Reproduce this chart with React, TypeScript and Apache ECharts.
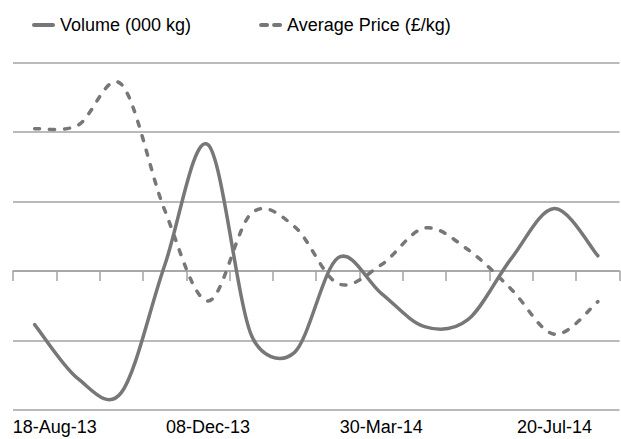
import React, { useEffect, useRef } from "react";
import * as echarts from "echarts";

// Four-weekly periods
const periods = [
  "18-Aug-13", "15-Sep-13", "13-Oct-13", "10-Nov-13", "08-Dec-13",
  "05-Jan-14", "02-Feb-14", "02-Mar-14", "30-Mar-14", "27-Apr-14",
  "25-May-14", "22-Jun-14", "20-Jul-14", "17-Aug-14",
];

const volume = [-0.77, -1.55, -1.75, 0.08, 1.82, -0.92, -1.17, 0.19, -0.32, -0.8, -0.7, 0.18, 0.9, 0.22];
const avgPrice = [2.05, 2.1, 2.69, 0.88, -0.43, 0.83, 0.64, -0.18, 0.09, 0.62, 0.31, -0.26, -0.91, -0.44];

const seriesNames = ["Volume (000 kg)", "Average Price (£/kg)"];

const FONT = "'Liberation Sans', Arial, Helvetica, sans-serif";
const LINE = "#777777";
const GRID = "#a3a3a3";

// legend keys: a rounded bar and a pair of rounded dashes
const SOLID_ICON = "path://M2,0H21A2,2 0 0 1 21,4H2A2,2 0 0 1 2,0Z";
const DASH_ICON = "path://M2,0H8A2,2 0 0 1 8,4H2A2,2 0 0 1 2,0Z M15,0H21A2,2 0 0 1 21,4H15A2,2 0 0 1 15,0Z";

const dist = (a: number[], b: number[]) => Math.hypot(b[0] - a[0], b[1] - a[1]);

// Smoothed path through projected points: Bezier arms run along the
// neighbour chord (1/6 of its length), capped at half the segment length.
function smoothPath(pts: number[][]): string {
  const n = pts.length;
  let d = `M${pts[0][0]},${pts[0][1]}`;
  for (let i = 0; i < n - 1; i++) {
    const p0 = pts[Math.max(i - 1, 0)];
    const p1 = pts[i];
    const p2 = pts[i + 1];
    const p3 = pts[Math.min(i + 2, n - 1)];
    const seg = dist(p1, p2);
    const d02 = dist(p0, p2) || 1;
    const d13 = dist(p1, p3) || 1;
    const a1 = Math.min(d02 / 6, seg / 2) / d02;
    const a2 = Math.min(d13 / 6, seg / 2) / d13;
    const c1x = p1[0] + (p2[0] - p0[0]) * a1;
    const c1y = p1[1] + (p2[1] - p0[1]) * a1;
    const c2x = p2[0] - (p3[0] - p1[0]) * a2;
    const c2y = p2[1] - (p3[1] - p1[1]) * a2;
    d += ` C${c1x},${c1y} ${c2x},${c2y} ${p2[0]},${p2[1]}`;
  }
  return d;
}

function smoothLineSeries(name: string, values: number[], dash?: number[]) {
  return {
    name,
    type: "custom",
    xAxisIndex: 0,
    yAxisIndex: 0,
    data: values.map((v, i) => [i, v]),
    encode: { x: 0, y: 1 },
    itemStyle: { color: LINE },
    silent: true,
    z: 3,
    renderItem: (params: any, api: any) => {
      if (params.dataIndex !== 0) return null;
      const pts = values.map((v, i) => api.coord([i, v]));
      return {
        type: "path",
        shape: { pathData: smoothPath(pts) },
        style: {
          fill: "none",
          stroke: LINE,
          lineWidth: 3.5,
          lineCap: "round",
          lineJoin: "round",
          lineDash: dash || null,
        },
      };
    },
  };
}

export default function App() {
  const ref = useRef<HTMLDivElement>(null);

  useEffect(() => {
    if (!ref.current) return;
    const chart = echarts.init(ref.current, undefined, { renderer: "svg" });

    // first label starts at the plot's left edge instead of centring on its period
    const labelData = periods.map((p, i) =>
      i === 0 ? { value: p, textStyle: { align: "left", padding: [0, 0, 0, -22] } } : p
    );

    chart.setOption({
      animation: false,
      backgroundColor: "#ffffff",
      legend: {
        left: 27,
        top: 11,
        itemWidth: 23,
        itemHeight: 4,
        itemGap: 68,
        selectedMode: false,
        textStyle: { fontFamily: FONT, fontSize: 18, color: "#000" },
        data: [
          { name: seriesNames[0], icon: SOLID_ICON, itemStyle: { color: LINE } },
          { name: seriesNames[1], icon: DASH_ICON, itemStyle: { color: LINE } },
        ],
      },
      grid: { left: 13, right: 1.5, top: 62.7, bottom: 29, containLabel: false },
      xAxis: [
        {
          type: "category",
          data: periods,
          boundaryGap: true,
          axisLine: { onZero: true, lineStyle: { color: GRID, width: 1.5 } },
          axisTick: { show: true, inside: false, length: 10, interval: 0, lineStyle: { color: GRID, width: 1.5 } },
          axisLabel: { show: false },
          splitLine: { show: false },
        },
        {
          type: "category",
          data: labelData,
          position: "bottom",
          boundaryGap: true,
          axisLine: { show: false, onZero: false },
          axisTick: { show: false },
          axisLabel: { show: true, interval: 3, margin: 8, fontFamily: FONT, fontSize: 18, color: "#000" },
          splitLine: { show: false },
        },
      ],
      yAxis: {
        type: "value",
        min: -2,
        max: 3,
        interval: 1,
        axisLine: { show: false },
        axisTick: { show: false },
        axisLabel: { show: false },
        splitLine: { show: true, lineStyle: { color: GRID, width: 1.5 } },
      },
      series: [
        smoothLineSeries(seriesNames[0], volume),
        smoothLineSeries(seriesNames[1], avgPrice, [5, 10]),
      ],
    });

    return () => chart.dispose();
  }, []);

  return <div ref={ref} style={{ width: 621, height: 439, position: "absolute", left: 0, top: 0 }} />;
}
